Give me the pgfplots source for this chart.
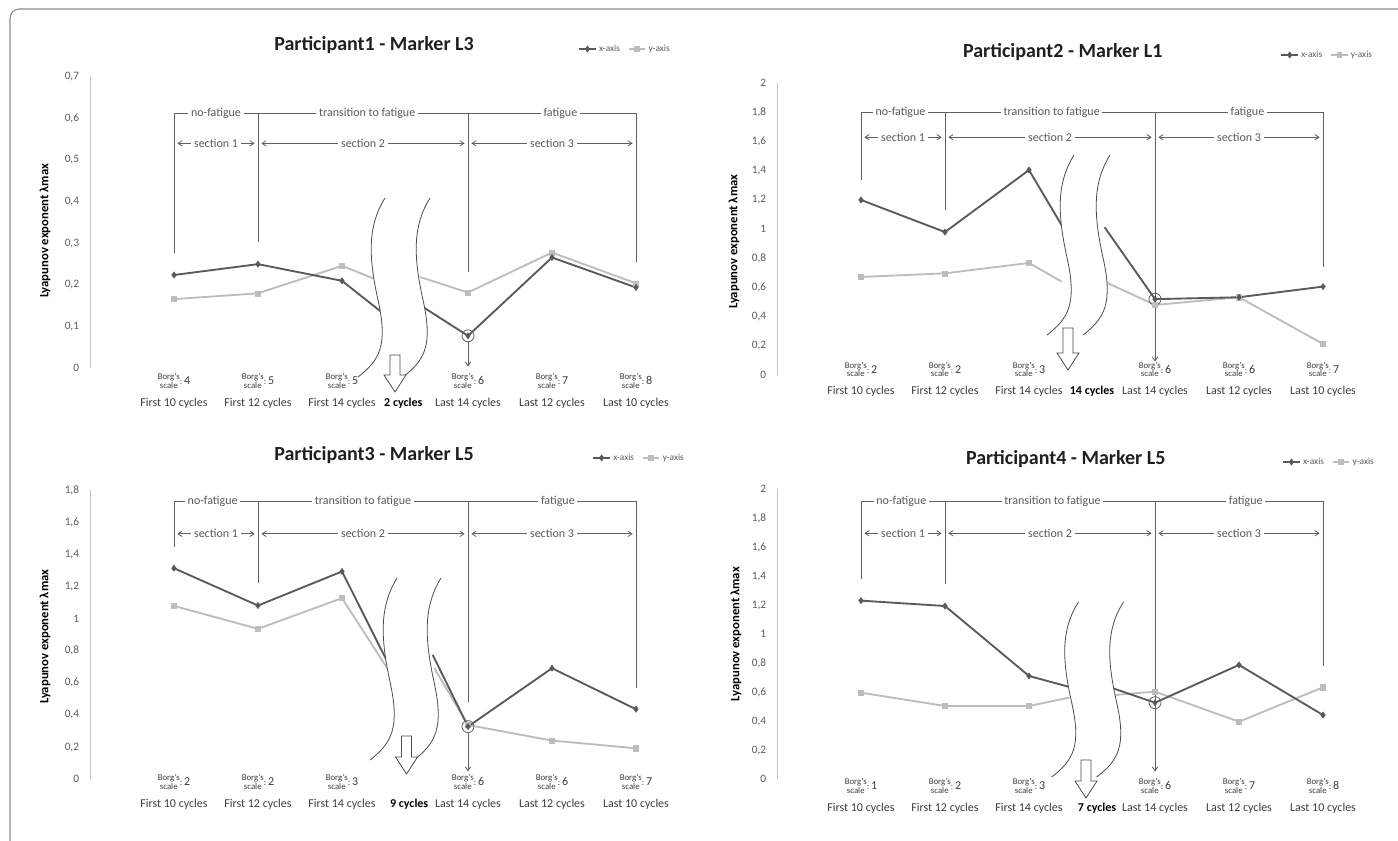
\documentclass[border=0pt]{standalone}
\usepackage{pgfplots}
\pgfplotsset{compat=1.18}
\usepackage{fontspec}
\setmainfont{Carlito}
\usetikzlibrary{arrows.meta}
\definecolor{dk}{HTML}{5A5A5A}
\definecolor{lt}{HTML}{BDBDBD}
\definecolor{txt}{HTML}{3C3C3C}
\definecolor{brk}{HTML}{5F5F5F}
\definecolor{axl}{HTML}{C4C4C4}

\newcommand{\borg}[2]{\begin{tabular}{@{}c@{}}{\fontsize{6.6}{6}\selectfont\begin{tabular}{@{}c@{}}Borg's\\scale\end{tabular}}{\fontsize{6.6}{6}\selectfont:}\,{\fontsize{9}{9}\selectfont #1}\\[5.5pt]#2\end{tabular}}
\newcommand{\cyc}[1]{\begin{tabular}{@{}c@{}}\phantom{\fontsize{6.6}{6}\selectfont\begin{tabular}{@{}c@{}}Borg's\\scale\end{tabular}}\\[5.5pt]\textbf{\color{black}#1}\end{tabular}}

\newcommand{\wavy}[4]{%
\begin{scope}[shift={(#1,840-#2)},yscale=-#4]
\fill[white] (0,0) .. controls (-17,27) and (-17,57) .. (-7,102) .. controls (3,147) and (-5,162) .. (-27,179) -- (-27+#3,179) .. controls (-5+#3,162) and (3+#3,147) .. (-7+#3,102) .. controls (-17+#3,57) and (-17+#3,27) .. (#3,0) -- cycle;
\draw[wv] (0,0) .. controls (-17,27) and (-17,57) .. (-7,102) .. controls (3,147) and (-5,162) .. (-27,179);
\draw[wv] (#3,0) .. controls (-17+#3,27) and (-17+#3,57) .. (-7+#3,102) .. controls (3+#3,147) and (-5+#3,162) .. (-27+#3,179);
\end{scope}}
\newcommand{\hollow}[3]{%
\draw[wv, fill=white] (#1-5,840-#2) -- (#1+5,840-#2) -- (#1+5,857-#3) -- (#1+11,857-#3) -- (#1,840-#3) -- (#1-11,857-#3) -- (#1-5,857-#3) -- cycle;}

\tikzset{
  wv/.style={draw=black!70, line width=0.6pt},
  br/.style={draw=brk, line width=0.7pt},
  sec/.style={draw=brk, line width=0.6pt, {Straight Barb[length=3pt,width=4pt]}-{Straight Barb[length=3pt,width=4pt]}},
  lab/.style={fill=white, inner xsep=2pt, inner ysep=1pt, text=dk, font=\fontsize{9}{10}\selectfont},
  dn/.style={draw=brk, line width=0.7pt, -{Straight Barb[length=3pt,width=4pt]}},
}
\pgfplotsset{
  dkl/.style={color=dk, line width=1.4pt, unbounded coords=jump},
  ltl/.style={color=lt, line width=1.4pt, unbounded coords=jump},
  dkm/.style={color=dk, only marks, mark=diamond*, mark size=2.3pt},
  ltm/.style={color=lt, only marks, mark=square*, mark size=1.9pt},
 panel/.style={
  scale only axis, width=441pt, xmin=-1, xmax=6, ymin=0, clip=false,
  axis x line*=bottom, axis y line*=left,
  x axis line style={draw=none}, y axis line style={draw=axl, line width=0.75pt},
  major tick length=0pt,
  yticklabel style={font=\fontsize{8.5}{9}\selectfont, text=dk, anchor=east, inner sep=0pt, xshift=-8pt,
     /pgf/number format/.cd, use comma, fixed, assume math mode=true},
  xticklabel style={font=\fontsize{9}{10.8}\selectfont, text=txt, anchor=north, inner sep=0pt},
  title style={font=\fontsize{15}{18}\selectfont\bfseries, text=black!88, anchor=center},
  ylabel={Lyapunov exponent λmax},
  ylabel style={font=\fontsize{9.5}{11}\selectfont\bfseries, anchor=center},
  legend style={draw=none, fill=none, font=\fontsize{7}{8}\selectfont, text=dk, anchor=east, inner sep=0pt,
     /tikz/every even column/.append style={column sep=4pt}},
  legend columns=-1,
  legend image code/.code={\draw[mark repeat=2,mark phase=2,##1] plot coordinates {(0cm,0cm)(0.22cm,0cm)(0.44cm,0cm)};},
 }}

\begin{document}
\begin{tikzpicture}[x=0.75pt,y=0.75pt]
\useasboundingbox (0,0) rectangle (1398,840);
\draw[draw=black!45, line width=0.8pt, rounded corners=7pt] (10,-30) -- (10,831) -- (1430,831);
\coordinate (p1) at (90,471.7);
\coordinate (p2) at (777,465);
\coordinate (p3) at (90,60.7);
\coordinate (p4) at (777,60.7);

% ---------------- Panel 1 ----------------
\begin{axis}[panel, at={(p1)}, anchor=south west, height=218.7pt, ymax=0.7,
  ytick={0,0.1,0.2,0.3,0.4,0.5,0.6,0.7},
  xtick={0,1,2,2.73,3.5,4.5,5.5},
  xticklabels={\borg{4}{First 10 cycles},\borg{5}{First 12 cycles},\borg{5}{First 14 cycles},\cyc{2 cycles},\borg{6}{Last 14 cycles},\borg{7}{Last 12 cycles},\borg{8}{Last 10 cycles}},
  xticklabel style={yshift=-3.75pt},
  title={Participant1 - Marker L3}, title style={at={(axis description cs:0.483,1.081)}},
  ylabel style={at={(axis description cs:-0.0765,0.471)}},
  legend style={at={(axis description cs:0.991,1.095)}}]
\addlegendimage{color=dk, line width=1pt, mark=diamond*, mark size=1.8pt}
\addlegendentry{x-axis}
\addlegendimage{color=lt, line width=1pt, mark=square*, mark size=1.5pt}
\addlegendentry{y-axis}
\addplot[ltl, forget plot] coordinates {(0,0.166) (1,0.180) (2,0.246) (2.42,0.212) (2.7,nan) (2.93,0.219) (3.5,0.182) (4.5,0.278) (5.5,0.204)};
\addplot[ltm, forget plot] coordinates {(0,0.166) (1,0.180) (2,0.246) (3.5,0.182) (4.5,0.278) (5.5,0.204)};
\addplot[dkl, forget plot] coordinates {(0,0.224) (1,0.250) (2,0.210) (2.47,0.135) (2.7,nan) (2.95,0.149) (3.5,0.078) (4.5,0.266) (5.5,0.194)};
\addplot[dkm, forget plot] coordinates {(0,0.224) (1,0.250) (2,0.210) (3.5,0.078) (4.5,0.266) (5.5,0.194)};
\draw[br] (axis cs:0,0.276) -- (axis cs:0,0.612) -- (axis cs:5.5,0.612) -- (axis cs:5.5,0.254);
\draw[br] (axis cs:1,0.612) -- (axis cs:1,0.304);
\draw[br] (axis cs:3.5,0.612) -- (axis cs:3.5,0.232);
\node[lab] at (axis cs:0.5,0.612) {no-fatigue};
\node[lab] at (axis cs:2.3,0.612) {transition to fatigue};
\node[lab] at (axis cs:4.6,0.612) {fatigue};
\draw[sec] (axis cs:0.04,0.54) -- (axis cs:0.96,0.54) node[lab,midway] {section 1};
\draw[sec] (axis cs:1.04,0.54) -- (axis cs:3.46,0.54) node[lab,midway] {section 2};
\draw[sec] (axis cs:3.54,0.54) -- (axis cs:5.46,0.54) node[lab,midway] {section 3};
\draw[br, line width=0.6pt] (axis cs:3.5,0.078) circle[radius=4.5pt];
\draw[dn] (axis cs:3.5,0.064) -- (axis cs:3.5,0.004);
\end{axis}
\wavy{385}{198}{45}{1.0}
\hollow{395}{355}{392}

% ---------------- Panel 2 ----------------
\begin{axis}[panel, at={(p2)}, anchor=south west, height=218.8pt, ymax=2,
  ytick={0,0.2,0.4,0.6,0.8,1,1.2,1.4,1.6,1.8,2},
  xtick={0,1,2,2.75,3.5,4.5,5.5},
  xticklabels={\borg{2}{First 10 cycles},\borg{2}{First 12 cycles},\borg{3}{First 14 cycles},\cyc{14 cycles},\borg{6}{Last 14 cycles},\borg{6}{Last 12 cycles},\borg{7}{Last 10 cycles}},
  xticklabel style={yshift=9.75pt},
  title={Participant2 - Marker L1}, title style={at={(axis description cs:0.486,1.080)}},
  ylabel style={at={(axis description cs:-0.073,0.457)}},
  legend style={at={(axis description cs:1.017,1.097)}}]
\addlegendimage{color=dk, line width=1pt, mark=diamond*, mark size=1.8pt}
\addlegendentry{x-axis}
\addlegendimage{color=lt, line width=1pt, mark=square*, mark size=1.5pt}
\addlegendentry{y-axis}
\addplot[ltl, forget plot] coordinates {(0,0.672) (1,0.697) (2,0.768) (2.39,0.640) (2.6,nan) (2.90,0.640) (3.5,0.48) (4.5,0.533) (5.5,0.213)};
\addplot[ltm, forget plot] coordinates {(0,0.672) (1,0.697) (2,0.768) (3.5,0.48) (4.5,0.533) (5.5,0.213)};
\addplot[dkl, forget plot] coordinates {(0,1.20) (1,0.98) (2,1.405) (2.41,1.006) (2.6,nan) (2.90,1.013) (3.5,0.52) (4.5,0.533) (5.5,0.606)};
\addplot[dkm, forget plot] coordinates {(0,1.20) (1,0.98) (2,1.405) (3.5,0.52) (4.5,0.533) (5.5,0.606)};
\draw[br] (axis cs:0,1.337) -- (axis cs:0,1.80) -- (axis cs:5.5,1.80) -- (axis cs:5.5,0.743);
\draw[br] (axis cs:1,1.80) -- (axis cs:1,1.13);
\draw[dn] (axis cs:3.5,1.80) -- (axis cs:3.5,0.091);
\node[lab] at (axis cs:0.47,1.80) {no-fatigue};
\node[lab] at (axis cs:2.27,1.80) {transition to fatigue};
\node[lab] at (axis cs:4.6,1.80) {fatigue};
\draw[sec] (axis cs:0.04,1.63) -- (axis cs:0.96,1.63) node[lab,midway] {section 1};
\draw[sec] (axis cs:1.04,1.63) -- (axis cs:3.46,1.63) node[lab,midway] {section 2};
\draw[sec] (axis cs:3.54,1.63) -- (axis cs:5.46,1.63) node[lab,midway] {section 3};
\draw[br, line width=0.6pt] (axis cs:3.5,0.52) circle[radius=4.5pt];
\end{axis}
\wavy{1074}{155}{36}{1.006}
\hollow{1068}{328}{370}

% ---------------- Panel 3 ----------------
\begin{axis}[panel, at={(p3)}, anchor=south west, height=217pt, ymax=1.8,
  ytick={0,0.2,0.4,0.6,0.8,1,1.2,1.4,1.6,1.8},
  xtick={0,1,2,2.80,3.5,4.5,5.5},
  xticklabels={\borg{2}{First 10 cycles},\borg{2}{First 12 cycles},\borg{3}{First 14 cycles},\cyc{9 cycles},\borg{6}{Last 14 cycles},\borg{6}{Last 12 cycles},\borg{7}{Last 10 cycles}},
  xticklabel style={yshift=3.75pt},
  title={Participant3 - Marker L5}, title style={at={(axis description cs:0.483,1.093)}},
  ylabel style={at={(axis description cs:-0.0765,0.493)}},
  legend style={at={(axis description cs:1.015,1.111)}}]
\addlegendimage{color=dk, line width=1pt, mark=diamond*, mark size=1.8pt}
\addlegendentry{x-axis}
\addlegendimage{color=lt, line width=1pt, mark=square*, mark size=1.5pt}
\addlegendentry{y-axis}
\addplot[ltl, forget plot] coordinates {(0,1.079) (1,0.936) (2,1.127) (2.54,0.69) (2.8,nan) (3.10,0.69) (3.5,0.338) (4.5,0.241) (5.5,0.193)};
\addplot[ltm, forget plot] coordinates {(0,1.079) (1,0.936) (2,1.127) (3.5,0.338) (4.5,0.241) (5.5,0.193)};
\addplot[dkl, forget plot] coordinates {(0,1.313) (1,1.081) (2,1.293) (2.56,0.71) (2.8,nan) (3.08,0.774) (3.5,0.328) (4.5,0.691) (5.5,0.436)};
\addplot[dkm, forget plot] coordinates {(0,1.313) (1,1.081) (2,1.293) (3.5,0.328) (4.5,0.691) (5.5,0.436)};
\draw[br] (axis cs:0,1.448) -- (axis cs:0,1.728) -- (axis cs:5.5,1.728) -- (axis cs:5.5,0.566);
\draw[br] (axis cs:1,1.728) -- (axis cs:1,1.22);
\draw[br] (axis cs:3.5,1.728) -- (axis cs:3.5,0.483);
\node[lab] at (axis cs:0.46,1.728) {no-fatigue};
\node[lab] at (axis cs:2.25,1.728) {transition to fatigue};
\node[lab] at (axis cs:4.57,1.728) {fatigue};
\draw[sec] (axis cs:0.04,1.527) -- (axis cs:0.96,1.527) node[lab,midway] {section 1};
\draw[sec] (axis cs:1.04,1.527) -- (axis cs:3.46,1.527) node[lab,midway] {section 2};
\draw[sec] (axis cs:3.54,1.527) -- (axis cs:5.46,1.527) node[lab,midway] {section 3};
\draw[br, line width=0.6pt] (axis cs:3.5,0.328) circle[radius=4.5pt];
\draw[dn] (axis cs:3.5,0.291) -- (axis cs:3.5,0.048);
\end{axis}
\wavy{397}{578}{44}{1.017}
\hollow{406.5}{736}{774}

% ---------------- Panel 4 ----------------
\begin{axis}[panel, at={(p4)}, anchor=south west, height=217.7pt, ymax=2,
  ytick={0,0.2,0.4,0.6,0.8,1,1.2,1.4,1.6,1.8,2},
  xtick={0,1,2,2.81,3.5,4.5,5.5},
  xticklabels={\borg{1}{First 10 cycles},\borg{2}{First 12 cycles},\borg{3}{First 14 cycles},\cyc{7 cycles},\borg{6}{Last 14 cycles},\borg{7}{Last 12 cycles},\borg{8}{Last 10 cycles}},
  xticklabel style={yshift=0.75pt},
  title={Participant4 - Marker L5}, title style={at={(axis description cs:0.491,1.076)}},
  ylabel style={at={(axis description cs:-0.0697,0.50)}},
  legend style={at={(axis description cs:1.020,1.093)}}]
\addlegendimage{color=dk, line width=1pt, mark=diamond*, mark size=1.8pt}
\addlegendentry{x-axis}
\addlegendimage{color=lt, line width=1pt, mark=square*, mark size=1.5pt}
\addlegendentry{y-axis}
\addplot[ltl, forget plot] coordinates {(0,0.597) (1,0.505) (2,0.505) (2.48,0.563) (2.7,nan) (3.03,0.581) (3.5,0.604) (4.5,0.397) (5.5,0.634)};
\addplot[ltm, forget plot] coordinates {(0,0.597) (1,0.505) (2,0.505) (3.5,0.604) (4.5,0.397) (5.5,0.634)};
\addplot[dkl, forget plot] coordinates {(0,1.231) (1,1.194) (2,0.712) (2.47,0.638) (2.7,nan) (3.0,0.627) (3.5,0.528) (4.5,0.788) (5.5,0.443)};
\addplot[dkm, forget plot] coordinates {(0,1.231) (1,1.194) (2,0.712) (3.5,0.528) (4.5,0.788) (5.5,0.443)};
\draw[br] (axis cs:0,1.378) -- (axis cs:0,1.913) -- (axis cs:5.5,1.913) -- (axis cs:5.5,0.781);
\draw[br] (axis cs:1,1.913) -- (axis cs:1,1.343);
\draw[dn] (axis cs:3.5,1.913) -- (axis cs:3.5,0.053);
\node[lab] at (axis cs:0.48,1.913) {no-fatigue};
\node[lab] at (axis cs:2.28,1.913) {transition to fatigue};
\node[lab] at (axis cs:4.58,1.913) {fatigue};
\draw[sec] (axis cs:0.04,1.695) -- (axis cs:0.96,1.695) node[lab,midway] {section 1};
\draw[sec] (axis cs:1.04,1.695) -- (axis cs:3.46,1.695) node[lab,midway] {section 2};
\draw[sec] (axis cs:3.54,1.695) -- (axis cs:5.46,1.695) node[lab,midway] {section 3};
\draw[br, line width=0.6pt] (axis cs:3.5,0.528) circle[radius=4.5pt];
\end{axis}
\wavy{1078.5}{602}{45}{0.978}
\hollow{1086}{760}{798}
\end{tikzpicture}
\end{document}
